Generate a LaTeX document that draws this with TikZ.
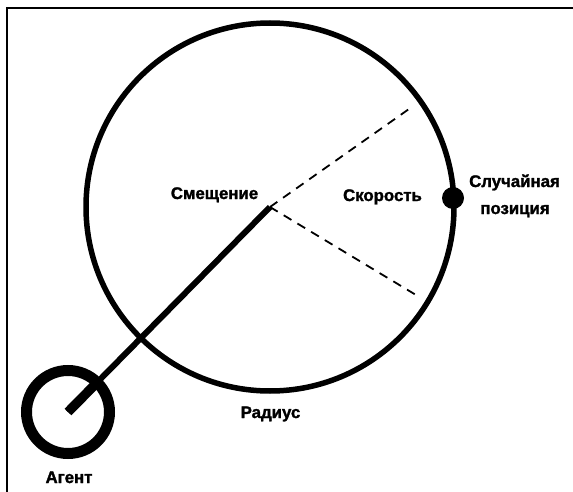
\documentclass[tikz,border=0pt]{standalone}
\usepackage{fontspec}
\setmainfont{Liberation Sans}
\newfontfamily\lblfont{Liberation Sans}[FakeBold=1.6]
\usetikzlibrary{calc}
\begin{document}
\begin{tikzpicture}[x=1pt,y=-1pt,
  lbl/.style={font=\lblfont\fontsize{16.8}{18}\selectfont, inner sep=0pt, anchor=base},
  ring/.style={line width=5.5pt},
  agentring/.style={line width=11pt},
  offsetline/.style={line width=6pt},
  dashline/.style={line width=1.8pt, dash pattern=on 9pt off 7pt}]
\useasboundingbox (0,0) rectangle (573,492);
% frame
\draw[line width=2pt] (7,492) -- (7,8.3) -- (573,8.3);
% coordinates
\coordinate (agent) at (68,412);
\coordinate (center) at (270,207);
\coordinate (velA) at (409,109);
\coordinate (velB) at (416,295);
\coordinate (target) at (453,198);
% wander circle
\draw[ring] (center) circle[radius=184];
% agent
\draw[agentring] (agent) circle[radius=41.5];
\draw[offsetline] (agent) -- (center);
\draw[line width=9.5pt] (agent) -- ($(agent)!0.155!(center)$);
% dashed
\draw[dashline] (center) -- (velA);
\draw[dashline] (center) -- (velB);
% random position
\fill (target) circle[radius=11];
% labels
\node[lbl] (offsetlbl) at (214.5,199) {\bfseries Смещение};
\node[lbl] (speedlbl) at (382.5,201) {\bfseries Скорость};
\node[lbl] (randlbl1) at (514.5,187) {\bfseries Случайная};
\node[lbl] (randlbl2) at (515,214) {\bfseries позиция};
\node[lbl] (radiuslbl) at (270.5,418) {\bfseries Радиус};
\node[lbl] (agentlbl) at (69,483) {\bfseries Агент};
\end{tikzpicture}
\end{document}
